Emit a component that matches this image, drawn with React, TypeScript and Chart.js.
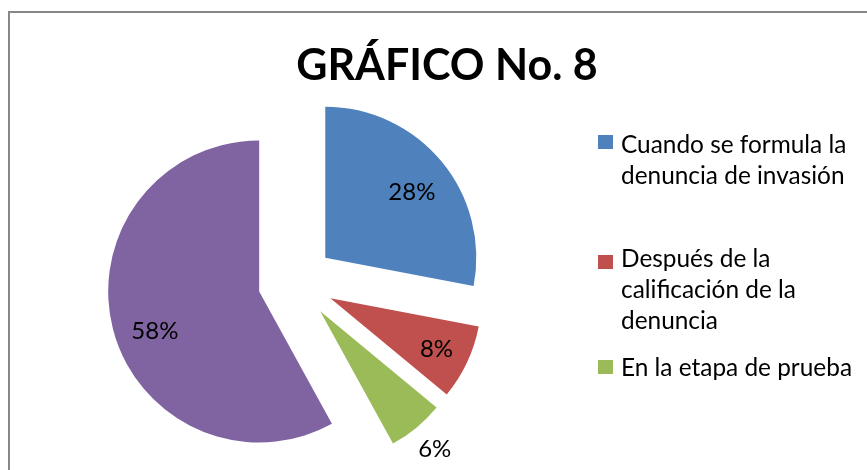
import React, { useEffect, useRef } from 'react';
import { Chart, registerables } from 'chart.js';

Chart.register(...registerables);

// ---- data ----
const TITLE = 'GRÁFICO No. 8';
const categories = [
  'Cuando se formula la denuncia de invasión',
  'Después de la calificación de la denuncia',
  'En la etapa de prueba',
  '',
];
const values = [28, 8, 6, 58];
const colors = ['#4F81BD', '#C0504D', '#9BBB59', '#8064A2'];

// ---- styling / layout ----
const FONT = 'Lato, "Open Sans", "Noto Sans", sans-serif';
const EXPLODE = 38;
const LABEL_RADIUS = [0.72, 0.78, 1.19, 0.74];
const LABEL_ANGLE_SHIFT = [2.4, 0.5, 0, -6.6];
const LEGEND_BASELINES = [153, 267, 376];
const LEGEND_BOX_TOPS = [135, 255, 360];
const LEGEND_LINE_H = 31;
const LEGEND_WRAP = 240;

function wrap(ctx: CanvasRenderingContext2D, text: string, maxW: number): string[] {
  const words = text.split(' ');
  const lines: string[] = [];
  let cur = '';
  for (const w of words) {
    const test = cur ? cur + ' ' + w : w;
    if (cur && ctx.measureText(test).width > maxW) {
      lines.push(cur);
      cur = w;
    } else cur = test;
  }
  if (cur) lines.push(cur);
  return lines;
}

const explodePlugin = {
  id: 'explodeDraw',
  beforeDatasetDraw(chart: any, args: any) {
    const ctx = chart.ctx;
    args.meta.data.forEach((arc: any) => {
      const mid = (arc.startAngle + arc.endAngle) / 2;
      ctx.save();
      ctx.translate(Math.cos(mid) * EXPLODE, Math.sin(mid) * EXPLODE);
      arc.draw(ctx, chart.chartArea);
      ctx.restore();
    });
    return false;
  },
};

const decorPlugin = {
  id: 'decor',
  beforeDraw(chart: any) {
    const ctx = chart.ctx;
    ctx.save();
    ctx.fillStyle = '#ffffff';
    ctx.fillRect(0, 0, chart.width, chart.height);
    ctx.strokeStyle = '#878787';
    ctx.lineWidth = 2;
    ctx.strokeRect(9, 12, chart.width + 20, chart.height + 20);
    ctx.restore();
  },
  afterDraw(chart: any) {
    const ctx = chart.ctx;
    ctx.save();
    // title
    ctx.fillStyle = '#000';
    ctx.font = `bold 43px ${FONT}`;
    ctx.textAlign = 'center';
    ctx.textBaseline = 'alphabetic';
    ctx.fillText(TITLE, 447, 80);

    // percentage labels
    const meta = chart.getDatasetMeta(0);
    const total = values.reduce((a, b) => a + b, 0);
    ctx.font = `24px ${FONT}`;
    ctx.textBaseline = 'middle';
    meta.data.forEach((arc: any, i: number) => {
      const mid = (arc.startAngle + arc.endAngle) / 2;
      const cx = arc.x + Math.cos(mid) * EXPLODE;
      const cy = arc.y + Math.sin(mid) * EXPLODE;
      const a = mid + (LABEL_ANGLE_SHIFT[i] * Math.PI) / 180;
      const r = arc.outerRadius * LABEL_RADIUS[i];
      const pct = Math.round((values[i] / total) * 100) + '%';
      ctx.fillText(pct, cx + Math.cos(a) * r, cy + Math.sin(a) * r);
    });

    // legend
    ctx.textAlign = 'left';
    ctx.textBaseline = 'alphabetic';
    ctx.font = `24.4px ${FONT}`;
    let k = 0;
    categories.forEach((c, i) => {
      if (!c) return;
      ctx.fillStyle = colors[i];
      ctx.fillRect(598, LEGEND_BOX_TOPS[k], 15, 14);
      ctx.fillStyle = '#000';
      const lines = wrap(ctx, c, LEGEND_WRAP);
      lines.forEach((ln, j) => {
        ctx.fillText(ln, 621, LEGEND_BASELINES[k] + j * LEGEND_LINE_H);
      });
      k++;
    });
    ctx.restore();
  },
};

export default function App() {
  const ref = useRef<HTMLCanvasElement | null>(null);
  useEffect(() => {
    if (!ref.current) return;
    const chart = new Chart(ref.current, {
      type: 'pie',
      data: {
        labels: categories,
        datasets: [
          {
            data: values,
            backgroundColor: colors,
            borderWidth: 0,
            offset: 0,
            hoverOffset: 0,
          },
        ],
      },
      options: {
        responsive: false,
        animation: false,
        devicePixelRatio: 1,
        layout: { padding: { left: 145, top: 131, right: 420, bottom: 37 } },
        plugins: {
          legend: { display: false },
          title: { display: false },
          tooltip: { enabled: false },
        },
        events: [],
      },
      plugins: [explodePlugin, decorPlugin],
    });
    return () => chart.destroy();
  }, []);
  return (
    <div style={{ position: 'absolute', left: 0, top: 0, width: 867, height: 470, background: '#fff' }}>
      <canvas ref={ref} width={867} height={470} style={{ display: 'block' }} />
    </div>
  );
}
